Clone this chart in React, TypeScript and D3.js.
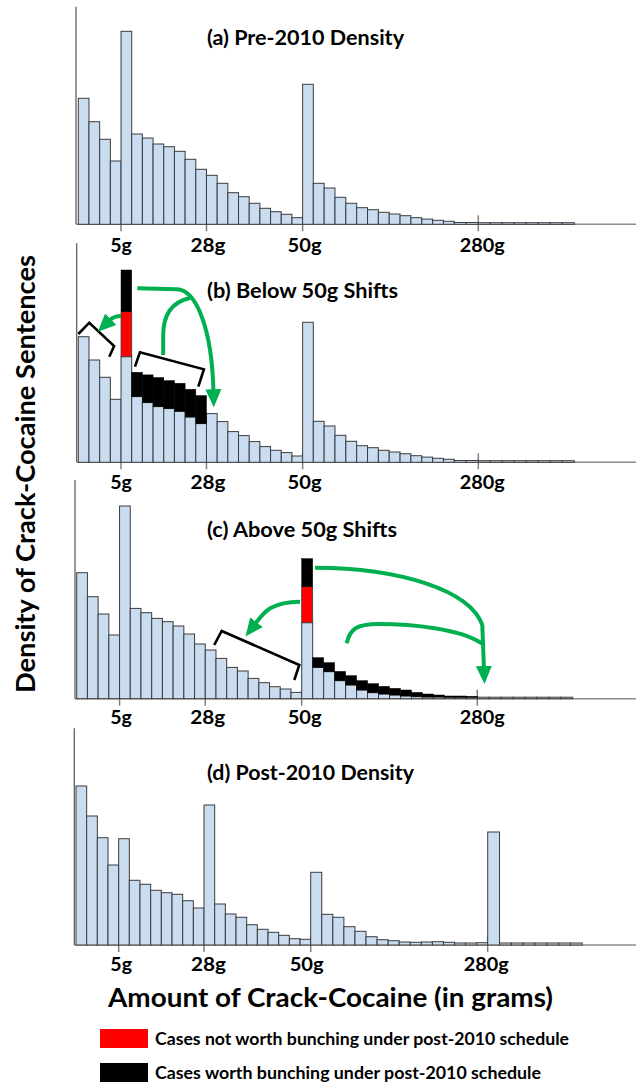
import React from 'react';
import * as d3 from 'd3';

// ---------- data ----------
const tickLabels = ['5g', '28g', '50g', '280g'];
const tickBinsPre = [4, 12, 21, 37];
const tickBinsPost = [4, 12, 22, 38];

// (a) Pre-2010 density (one value per bin)
const preDensity = [126, 102.6, 85, 63.3, 193, 90.3, 86.3, 80.3, 77.6, 73, 65, 55, 49, 41, 31.6, 27.6, 21, 16, 12.6, 10, 6.6, 140,
  41, 36.3, 27, 21, 16.6, 14.6, 12, 10.3, 8.6, 6.6, 5.2, 4, 3, 1.8, 1.8, 1.6, 1.6, 1.6, 1.6, 1.6, 1.6, 1.6, 1.6];

// (b) Below 50g shifts
const belowShiftBase = [125.6, 102.3, 85, 63, 105.6, 65.7, 59.7, 55.7, 53.7, 51, 45.3, 38.7, 48.7, 40.7, 30.7, 26.7, 20.7, 15.7, 12, 9.7, 6.3, 140,
  41, 36.3, 27, 21, 16.6, 14.6, 12, 10.3, 8.6, 6.6, 5.2, 4, 3, 1.8, 1.8, 1.6, 1.6, 1.6, 1.6, 1.6, 1.6, 1.6, 1.6];
const belowShiftRedStart = 4;
const belowShiftRed = [45];
const belowShiftBlackStart = 4;
const belowShiftBlack = [41.7, 24.3, 27.7, 29, 28, 28, 27.7, 28];

// (c) Above 50g shifts
const aboveShiftBase = [126, 102, 84.7, 63.7, 192.7, 90.3, 86, 80.3, 77, 72.7, 64.7, 54.7, 48.7, 40.3, 31.3, 27.7, 20.3, 16, 12, 9.7, 6.3, 76,
  31.3, 27, 18, 13.7, 8.7, 6, 4.7, 3.7, 2.7, 2, 1.7, 1.7, 1.5, 1.5, 1.5, 1.5, 1.5, 1.5, 1.5, 1.5, 1.5, 1.5, 1.5];
const aboveShiftRedStart = 21;
const aboveShiftRed = [36];
const aboveShiftBlackStart = 21;
const aboveShiftBlack = [28, 9.7, 9, 9.3, 9.3, 9.3, 9, 7.6, 6.6, 6, 4.3, 3, 2, 1.2, 1.2, 0.8];

// (d) Post-2010 density
const postDensity = [159, 129, 107.3, 80, 106.3, 64.7, 60.7, 54.7, 52.3, 50.7, 44.3, 37, 140, 41, 31, 27.7, 20.3, 15.7, 12.7, 9.7, 6.3, 5.7, 72.7,
  30.7, 27.7, 18.3, 13.7, 8.3, 5.3, 4.3, 3, 2.7, 3, 3.3, 2.7, 2, 2, 2.3, 113, 2, 2, 2, 2, 2, 2, 2];

const legendItems = [
  { color: '#ff0000', label: 'Cases not worth bunching under post-2010 schedule' },
  { color: '#000000', label: 'Cases worth bunching under post-2010 schedule' },
];

// annotations in data units: [command, bin, value, ...]
type Cmd = (string | number)[];
const bracketsB: Cmd[][] = [
  [['M', 0, 128.3], ['L', 1.03, 139.6], ['L', 3.35, 116.3], ['L', 2.9, 105.6]],
  [['M', 5.31, 95.6], ['L', 5.77, 110], ['L', 11.76, 93], ['L', 11.23, 75.6]],
];
const arrowsB: Cmd[][] = [
  [['M', 4.0, 146.3], ['Q', 3.35, 146.3, 2.97, 142.3]],
  [['M', 5.52, 174], ['L', 9.21, 173], ['C', 11.1, 172.3, 12.51, 132.3, 12.65, 72]],
];
const linesB: Cmd[][] = [
  [['M', 7.95, 107.3], ['L', 7.95, 127.3], ['C', 7.95, 147.3, 8.77, 160.3, 10.45, 164.3]],
];
const bracketsC: Cmd[][] = [
  [['M', 12.83, 53.7], ['L', 13.53, 67.7], ['L', 20.78, 33.7], ['L', 20.31, 18.7]],
];
const arrowsC: Cmd[][] = [
  [['M', 20.84, 97], ['C', 18.04, 97, 17.4, 85, 16.73, 75.7]],
  [['M', 22.21, 131], ['C', 29.95, 130.7, 36.33, 108.7, 37.42, 73.7], ['L', 37.55, 31.7]],
];
const linesC: Cmd[][] = [
  [['M', 25.1, 55.4], ['C', 25.4, 70, 26, 74.5, 28, 74.7], ['C', 31, 74.7, 35.5, 70, 37.4, 55]],
];

// ---------- layout ----------
const W = 636, H = 1085;
const FONT = 'Lato, "Open Sans", sans-serif';
const BLUE = '#c9dcf0';
const GREEN = '#00b050';
const tickLabelWidths = [21.7, 35, 34, 45];

type Panel = {
  title: string; titleY: number; titleW: number; base: number; top: number; axisX: number;
  xd: number[]; xr: number[]; ticks: number[]; labelY: number; labelDx: number[];
  values: number[];
  red?: { start: number; vals: number[] }; black?: { start: number; vals: number[] };
  brackets?: Cmd[][]; arrows?: Cmd[][]; lines?: Cmd[][];
};

const panels: Panel[] = [
  { title: '(a) Pre-2010 Density', titleY: 45, titleW: 197, base: 224.3, top: 6.7, axisX: 76,
    xd: [0, 22, 35, 45], xr: [78.3, 313.3, 454.3, 574.3], ticks: tickBinsPre, labelY: 252, labelDx: [0, 1.5, 2, 4],
    values: preDensity },
  { title: '(b) Below 50g Shifts', titleY: 298, titleW: 191, base: 462.3, top: 243.3, axisX: 76.7,
    xd: [0, 22, 35, 45], xr: [78.3, 313.3, 454.3, 574.3], ticks: tickBinsPre, labelY: 489, labelDx: [0, 1.5, 2, 4],
    values: belowShiftBase,
    red: { start: belowShiftRedStart, vals: belowShiftRed },
    black: { start: belowShiftBlackStart, vals: belowShiftBlack },
    brackets: bracketsB, arrows: arrowsB, lines: linesB },
  { title: '(c) Above 50g Shifts', titleY: 537, titleW: 190, base: 698.7, top: 480, axisX: 75,
    xd: [0, 21, 37, 45], xr: [76.7, 301.7, 477.3, 572.7], ticks: tickBinsPre, labelY: 724, labelDx: [1.5, 2.5, 3, 5],
    values: aboveShiftBase,
    red: { start: aboveShiftRedStart, vals: aboveShiftRed },
    black: { start: aboveShiftBlackStart, vals: aboveShiftBlack },
    brackets: bracketsC, arrows: arrowsC, lines: linesC },
  { title: '(d) Post-2010 Density', titleY: 780, titleW: 207, base: 945, top: 728.3, axisX: 74.3,
    xd: [0, 22, 38, 46], xr: [76, 310.7, 487.7, 582.3], ticks: tickBinsPost, labelY: 971, labelDx: [2.5, 4.5, -4, -1.5],
    values: postDensity },
];

function toPath(cmds: Cmd[], x: (v: number) => number, y: (v: number) => number) {
  return cmds.map(c => {
    const nums = c.slice(1) as number[];
    const pts: string[] = [];
    for (let i = 0; i < nums.length; i += 2) pts.push(`${x(nums[i]).toFixed(1)},${y(nums[i + 1]).toFixed(1)}`);
    return `${c[0]}${pts.join(' ')}`;
  }).join(' ');
}

function PanelView({ p }: { p: Panel }) {
  const x = d3.scaleLinear().domain(p.xd).range(p.xr);
  const y = d3.scaleLinear().domain([0, 200]).range([p.base, p.base - 200]);
  const redMap = new Map<number, number>();
  const blackMap = new Map<number, number>();
  p.red?.vals.forEach((v, i) => redMap.set(p.red!.start + i, v));
  p.black?.vals.forEach((v, i) => blackMap.set(p.black!.start + i, v));
  return (
    <g>
      {p.ticks.map((t, i) => (
        <line key={'t' + i} x1={x(t)} x2={x(t)} y1={p.base - 9} y2={p.base + 7} stroke="#7f7f7f" strokeWidth={1.5} />
      ))}
      <line x1={p.axisX} x2={W} y1={p.base} y2={p.base} stroke="#8c8c8c" strokeWidth={1.6} />
      {p.values.map((v, i) => (
        <rect key={'b' + i} x={x(i)} y={y(v)} width={x(i + 1) - x(i)} height={y(0) - y(v)}
          fill={BLUE} stroke="#3c3c3c" strokeWidth={1} />
      ))}
      {p.values.map((v, i) => {
        const r = redMap.get(i) || 0;
        const b = blackMap.get(i) || 0;
        const out = [];
        if (r > 0) out.push(<rect key={'r' + i} x={x(i)} y={y(v + r)} width={x(i + 1) - x(i)} height={y(v) - y(v + r)} fill="#ff0000" stroke="#3c3c3c" strokeWidth={0.8} />);
        if (b > 0) out.push(<rect key={'k' + i} x={x(i)} y={y(v + r + b)} width={x(i + 1) - x(i)} height={y(v + r) - y(v + r + b)} fill="#000" stroke="#000" strokeWidth={0.5} />);
        return out;
      })}
      <line x1={p.axisX} x2={p.axisX} y1={p.top} y2={p.base} stroke="#555" strokeWidth={1.2} />
      <text x={207} y={p.titleY} fontSize={20} fontWeight={700} fill="#000"
        textLength={p.titleW} lengthAdjust="spacingAndGlyphs">{p.title}</text>
      {p.ticks.map((t, i) => (
        <text key={'l' + i} x={x(t) + p.labelDx[i]} y={p.labelY} fontSize={19} fontWeight={700} textAnchor="middle"
          textLength={tickLabelWidths[i]} lengthAdjust="spacingAndGlyphs">{tickLabels[i]}</text>
      ))}
      {(p.brackets || []).map((c, i) => (
        <path key={'br' + i} d={toPath(c, x, y)} fill="none" stroke="#000" strokeWidth={2.6} strokeLinejoin="miter" />
      ))}
      {(p.lines || []).map((c, i) => (
        <path key={'ln' + i} d={toPath(c, x, y)} fill="none" stroke={GREEN} strokeWidth={4} />
      ))}
      {(p.arrows || []).map((c, i) => (
        <path key={'ar' + i} d={toPath(c, x, y)} fill="none" stroke={GREEN} strokeWidth={4} markerEnd="url(#gh)" />
      ))}
    </g>
  );
}

export default function App() {
  return (
    <svg width={W} height={H} style={{ position: 'absolute', left: 0, top: 0, fontFamily: FONT }}>
      <defs>
        <marker id="gh" markerUnits="userSpaceOnUse" markerWidth={22} markerHeight={20} viewBox="0 -10 22 20" refX={1} refY={0} orient="auto">
          <path d="M0,-8 L18,0 L0,8 Z" fill={GREEN} />
        </marker>
      </defs>
      <rect x={0} y={0} width={W} height={H} fill="#fff" />
      {panels.map((p, i) => <PanelView key={i} p={p} />)}
      <text x={330.5} y={1007} fontSize={26} fontWeight={700} textAnchor="middle"
        textLength={445} lengthAdjust="spacingAndGlyphs">Amount of Crack-Cocaine (in grams)</text>
      <text transform="translate(35,474) rotate(-90)" fontSize={26} fontWeight={700} textAnchor="middle"
        textLength={438} lengthAdjust="spacingAndGlyphs">Density of Crack-Cocaine Sentences</text>
      {legendItems.map((d, i) => (
        <g key={'lg' + i}>
          <rect x={100} y={1029 + i * 34} width={48} height={19} fill={d.color} />
          <text x={155} y={1045 + i * 33.5} fontSize={16.5} fontWeight={700}
            textLength={i === 0 ? 414 : 386} lengthAdjust="spacingAndGlyphs">{d.label}</text>
        </g>
      ))}
    </svg>
  );
}
